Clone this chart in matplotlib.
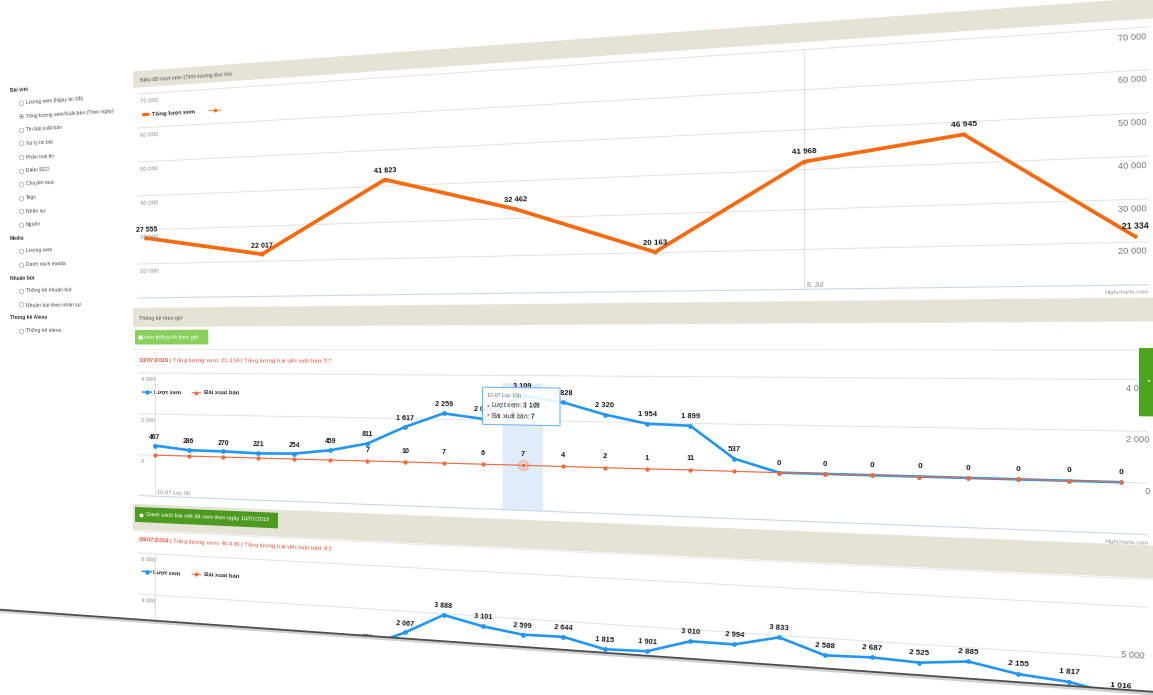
import numpy as np
import matplotlib
matplotlib.use("Agg")
import matplotlib.pyplot as plt
from matplotlib.transforms import Transform, Affine2D
from matplotlib.path import Path
from matplotlib.patches import Rectangle, Polygon

plt.rcParams["font.family"] = ["Liberation Sans", "DejaVu Sans"]
plt.rcParams["mathtext.fontset"] = "custom"
plt.rcParams["mathtext.rm"] = "Liberation Sans"
plt.rcParams["mathtext.bf"] = "Liberation Sans:bold"

# ------------------------------------------------------------------ data
days = [3, 4, 5, 6, 7, 8, 9, 10]
daily_views = [27555, 22017, 41823, 32462, 20163, 41968, 46945, 21334]
daily_ticks = [20000, 30000, 40000, 50000, 60000, 70000]
day_ticks = [8]
day_tick_labels = ["8. Jul"]

hours = list(range(24))
views_10jul = [467, 286, 270, 221, 254, 459, 811, 1617, 2259, 2043, 3109, 2828,
               2320, 1954, 1899, 537, 0, 0, 0, 0, 0, 0, 0, 0]
posts_10jul = [0, 1, 0, 0, 0, 0, 7, 10, 7, 6, 7, 4,
               2, 1, 11, 1, 0, 0, 0, 0, 0, 0, 0, 0]
hourly_ticks_10jul = [0, 2000, 4000]
hover_hour = 10

hours_9jul = list(range(6, 24))
views_9jul = [581, 2067, 3888, 3101, 2599, 2644, 1815, 1901, 3010, 2994,
              3833, 2588, 2687, 2525, 2885, 2155, 1817, 1016]
hourly_ticks_9jul = [4000, 8000]
right_ticks_9jul = [(4000, "5 000")]
posts_total_9jul = 83

menu = [
    ("Bài viết", ["Lượng xem (Ngày tin XB)", "Tổng lượng xem/Xuất bản (Theo ngày)",
                  "Tin bài xuất bản", "Xử lý tin bài", "Phân loại tin", "Điểm SEO",
                  "Chuyên mục", "Tags", "Nhân sự", "Nguồn"]),
    ("Media", ["Lượng xem", "Danh sách media"]),
    ("Nhuận bút", ["Thống kê nhuận bút", "Nhuận bút theo nhân sự"]),
    ("Thống kê Alexa", ["Thống kê alexa"]),
]
selected_item = "Tổng lượng xem/Xuất bản (Theo ngày)"

# ------------------------------------------------------------------ style
ORANGE = "#f9690e"
BLUE = "#2196f3"
RED = "#f26a3d"
TAN = "#e5e2d6"
GRID = "#e2e2e2"
AXIS = "#ccd6eb"
INFO_RED = "#ea5a3f"
LABEL = "#1c1c1c"
TICK = "#8c8c8c"

W, H = 1153, 695
X0, BETA, ALPHA = 138.0, 2.62e-4, 0.0911   # page tilt (keystone) parameters


class Keystone(Transform):
    """Projective tilt of the flat page: the right side leans towards the viewer."""
    input_dims = 2
    output_dims = 2
    is_separable = False
    has_inverse = False

    def __init__(self, x0, beta, alpha, height):
        super().__init__()
        self.x0, self.beta, self.alpha, self.height = x0, beta, alpha, height

    def transform_non_affine(self, values):
        v = np.asarray(values, dtype=float)
        d = v[..., 0] - self.x0
        yd = self.height - v[..., 1]
        w = 1.0 - self.beta * d
        out = np.empty_like(v)
        out[..., 0] = self.x0 + d / w
        out[..., 1] = self.height - (yd - self.alpha * d) / w
        return out

    def transform_path_non_affine(self, path):
        return Path(self.transform_non_affine(path.vertices), path.codes)


KS = Keystone(X0, BETA, ALPHA, H)
fig = plt.figure(figsize=(W / 100, H / 100), dpi=100)
fig.patch.set_facecolor("white")


def fmt(v):
    return f"{v:,}".replace(",", " ")


def make_axes(x_left, y_top, x_right, y_bottom, xlim, ylim, z):
    ax = fig.add_axes([x_left / W, (H - y_bottom) / H,
                       (x_right - x_left) / W, (y_bottom - y_top) / H])
    ax.set_axis_off()
    ax.set_zorder(z)
    ax.set_xlim(*xlim)
    ax.set_ylim(*ylim)
    return ax


def warp(ax, dx=0.0, dy=0.0):
    t = ax.transData
    if dx or dy:
        t = t + Affine2D().translate(dx, dy)
    return t + KS


def depth_at(ax, x, y, dx=0.0):
    xf = ax.transData.transform((x, y))[0] + dx
    return 1.0 / (1.0 - BETA * (xf - X0))


def txt(ax, x, y, s, size, dx=0.0, dy=0.0, ha="left", va="center", z=4, **kw):
    k = depth_at(ax, x, y, dx)
    return ax.text(x, y, s, transform=warp(ax, dx, dy), fontsize=size * k,
                   ha=ha, va=va, zorder=z, transform_rotates_text=True,
                   rotation_mode="anchor", clip_on=False, **kw)


def draw(ax, x, y, **kw):
    kw.setdefault("clip_on", False)
    return ax.plot(x, y, transform=warp(ax), scalex=False, scaley=False, **kw)


def hgrid(ax, values, color, lw=0.7):
    xa, xb = ax.get_xlim()
    ax.hlines(values, xa, xb, colors=color, lw=lw, transform=warp(ax), clip_on=False, zorder=1)


def vgrid(ax, values, color, lw=0.7):
    ya, yb = ax.get_ylim()
    ax.vlines(values, ya, yb, colors=color, lw=lw, transform=warp(ax), clip_on=False, zorder=1)


def box(ax, x, y, w, h, **kw):
    p = Rectangle((x, y), w, h, transform=warp(ax), clip_on=False, **kw)
    ax.add_patch(p)
    return p


# ------------------------------------------------------------------ page (flat pixel coords, y down)
page = make_axes(0, 0, W, H, (0, W), (H, 0), z=0)

# sidebar menu
y = 81.5
for header, items in menu:
    txt(page, 5.5, y, header, 3.7, weight="bold", color="#333333")
    y += 13.5
    for item in items:
        draw(page, [17], [y], marker="o", ms=3.3, mfc="white", mec="#a8a8a8", mew=0.5, zorder=3)
        if item == selected_item:
            draw(page, [17], [y], marker="o", ms=1.4, mfc="#555555", mec="none", zorder=4)
        txt(page, 22.5, y, item, 3.7, color="#4a4a4a")
        y += 14
    y -= 0.5

# section header bars
box(page, 133, 71, 850, 16.5, facecolor=TAN, edgecolor="none", zorder=1)
txt(page, 140, 80, "Biểu đồ lượt xem (Tính lượng đọc tin)", 4.0, color="#555555")
box(page, 133, 308, 850, 19, facecolor=TAN, edgecolor="none", zorder=1)
txt(page, 139, 318.5, "Thống kê theo giờ", 3.9, color="#555555")
box(page, 133, 504, 850, 26, facecolor=TAN, edgecolor="none", zorder=1)

# buttons
box(page, 135, 330, 72, 14.5, facecolor="#88cf5c", edgecolor="none", zorder=2)
draw(page, [139.5], [337.3], marker="s", ms=2.2, mfc="white", mec="none", zorder=3)
txt(page, 142.5, 337.3, "Xem thống kê theo giờ", 4.0, color="white")
box(page, 135, 507, 138, 15, facecolor="#4c9a1f", edgecolor="none", zorder=2)
draw(page, [141], [514.5], marker="o", ms=2.8, mfc="white", mec="none", zorder=3)
txt(page, 146.5, 514.5, "Danh sách bài viết đã xem theo ngày 10/07/2019", 4.1, color="white")

# card borders
draw(page, [133, 983], [349.5, 349.5], color="#e6e6e6", lw=0.6, zorder=1)
draw(page, [133, 983], [531, 531], color="#e6e6e6", lw=0.6, zorder=1)

# summary lines
total_10 = sum(views_10jul)
posts_10 = sum(posts_10jul)
txt(page, 138, 360.5,
    r"$\bf{10/07/2019}$" + f" | Tổng lượng xem: {total_10:,}".replace(",", ".")
    + f" | Tổng lượng bài viết xuất bản: {posts_10}", 4.3, color=INFO_RED)
txt(page, 138, 539,
    r"$\bf{09/07/2019}$" + f" | Tổng lượng xem: {daily_views[days.index(9)]:,}".replace(",", ".")
    + f" | Tổng lượng bài viết xuất bản: {posts_total_9jul}", 4.3, color=INFO_RED)

# legends
draw(page, [143.5, 148], [115, 115], color=ORANGE, lw=2.4, solid_capstyle="round", zorder=3)
txt(page, 152, 115, "Tổng lượt xem", 4.4, weight="bold", color="#333333")
draw(page, [208, 219], [115, 115], color=ORANGE, lw=0.7, alpha=0.8, zorder=3)
draw(page, [213.5], [115], marker="o", ms=1.8, color=ORANGE, alpha=0.8, zorder=3)

for ly in (392, 571):
    draw(page, [142.5, 151.5], [ly, ly], color=BLUE, lw=1.1, zorder=3)
    draw(page, [147], [ly], marker="o", ms=2.2, color=BLUE, zorder=3)
    txt(page, 153.5, ly, "Lượt xem", 4.1, weight="bold", color="#333333")
    draw(page, [191.5, 199.5], [ly, ly], color=RED, lw=0.7, zorder=3)
    draw(page, [195.5], [ly], marker="D", ms=1.6, color=RED, zorder=3)
    txt(page, 202.5, ly, "Bài xuất bản", 4.3, weight="bold", color="#333333")

txt(page, 937, 304, "Highcharts.com", 3.6, ha="right", color="#9a9a9a")
txt(page, 937, 502, "Highcharts.com", 3.6, ha="right", color="#9a9a9a")

# ------------------------------------------------------------------ daily views chart
top = make_axes(137.4, 94, 937.5, 298, (2.92, 10.08), (10000, 70000), z=1)
xa, xb = top.get_xlim()
hgrid(top, daily_ticks, GRID)
hgrid(top, [10000], AXIS, lw=0.8)
top.vlines(day_ticks, 10000, 70000, colors=GRID, lw=0.7, transform=warp(top), clip_on=False)
for v in daily_ticks:
    txt(top, xa, v, fmt(v), 4.3, dx=2.5, dy=-7.5, color=TICK)
    txt(top, xb, v, fmt(v), 5.3, dx=-1.5, dy=-7.5, ha="right", color="#7a7a7a")
for d, lab in zip(day_ticks, day_tick_labels):
    txt(top, d, 10000, lab, 4.2, dx=2.5, dy=3.5, color=TICK)
draw(top, days, daily_views, color=ORANGE, lw=2.7, solid_joinstyle="round",
     marker="o", ms=2.0, zorder=3)
for d, v in zip(days, daily_views):
    txt(top, d, v, fmt(v), 5.0, dy=8, ha="center", weight="bold", color=LABEL)

# ------------------------------------------------------------------ hourly chart, 10/07
mid = make_axes(138.3, 373, 936.3, 495.5, (-0.5, 23.5), (-2000, 4000), z=1)
xa, xb = mid.get_xlim()
ya, yb = mid.get_ylim()
box(mid, hover_hour - 0.5, ya, 1.0, 5650, facecolor="#d6e6f8", edgecolor="none", alpha=0.75, zorder=0.5)
hgrid(mid, hourly_ticks_10jul, GRID)
hgrid(mid, [ya], AXIS, lw=0.8)
vgrid(mid, [hours[0]], GRID)
for v in hourly_ticks_10jul:
    txt(mid, xa, v, fmt(v), 4.1, dx=2.5, dy=-6.5, color=TICK)
    txt(mid, xb, v, fmt(v), 5.3, dx=1.5, dy=-7.0, ha="right", color="#7a7a7a")
txt(mid, hours[0], ya, f"10-07 Lúc {hours[0]}h", 4.0, dx=2.5, dy=3.5, color=TICK)

draw(mid, hours, views_10jul, color=BLUE, lw=1.9, marker="o", ms=2.4, zorder=3)
draw(mid, hours, posts_10jul, color=RED, lw=0.8, marker="D", ms=1.8, zorder=3.5)
draw(mid, [hover_hour], [posts_10jul[hover_hour]], marker="o", ms=7.5, color=RED, alpha=0.25, zorder=3.6)
draw(mid, [hover_hour], [posts_10jul[hover_hour]], marker="o", ms=3.4, mfc=RED, mec="white", mew=0.5, zorder=3.7)
for h, v, p in zip(hours, views_10jul, posts_10jul):
    txt(mid, h, v, fmt(v), 4.8, dy=8, ha="center", weight="bold", color=LABEL, z=5)
    if v >= 600:
        txt(mid, h, p, fmt(p), 4.8, dy=9.5, ha="center", weight="bold", color=LABEL, z=5)

# ------------------------------------------------------------------ hourly chart, 09/07
bot = make_axes(138.3, 553, 936.3, 676, (-0.5, 23.5), (-4000, 8000), z=1)
xa, xb = bot.get_xlim()
hgrid(bot, hourly_ticks_9jul + [0], GRID)
vgrid(bot, [hours[0]], GRID)
for v in hourly_ticks_9jul:
    txt(bot, xa, v, fmt(v), 4.1, dx=2.5, dy=-6.5, color=TICK)
for v, lab in right_ticks_9jul:
    txt(bot, xb, v, lab, 5.3, dx=-1.5, dy=2.5, ha="right", color="#7a7a7a")
draw(bot, hours_9jul, views_9jul, color=BLUE, lw=1.9, marker="o", ms=2.4, zorder=3)
for h, v in zip(hours_9jul, views_9jul):
    txt(bot, h, v, fmt(v), 4.8, dy=8, ha="center", weight="bold", color=LABEL, z=5)

# ------------------------------------------------------------------ overlay: tooltip, side tab, page edge
ov = make_axes(0, 0, W, H, (0, W), (H, 0), z=5)

box(ov, 454, 384, 64, 34, facecolor=(1, 1, 1, 0.9), edgecolor="#7cb5ec", lw=0.8, zorder=2)
txt(ov, 458, 391.5, f"10-07 Lúc {hover_hour}h", 3.5, color="#666666")
txt(ov, 457.5, 400.5, "●", 2.8, color=BLUE)
txt(ov, 461.5, 400.5, r"Lượt xem: $\bf{" + fmt(views_10jul[hover_hour]).replace(" ", r"\ ") + "}$",
    4.3, color="#333333")
txt(ov, 457.5, 409, "●", 2.8, color=RED)
txt(ov, 461.5, 409, r"Bài xuất bản: $\bf{" + fmt(posts_10jul[hover_hour]) + "}$",
    4.3, color="#333333")

box(ov, 931, 348, 50, 54, facecolor="#4da51c", edgecolor="none", zorder=2)
txt(ov, 936, 374, "»", 3.6, color="white", weight="bold")

ov.add_patch(Polygon([(-60, 619.5), (1000, 619.5), (1000, 900), (-60, 900)], closed=True,
                     transform=warp(ov), facecolor="white", edgecolor="none", zorder=1, clip_on=False))
draw(ov, [-60, 1000], [621, 621], color="#cfcfcf", lw=2.2, zorder=1.5)
draw(ov, [-60, 1000], [619.5, 619.5], color="#4d4d4d", lw=1.3, zorder=1.6)

fig.savefig("out.png", dpi=100, facecolor="white")
